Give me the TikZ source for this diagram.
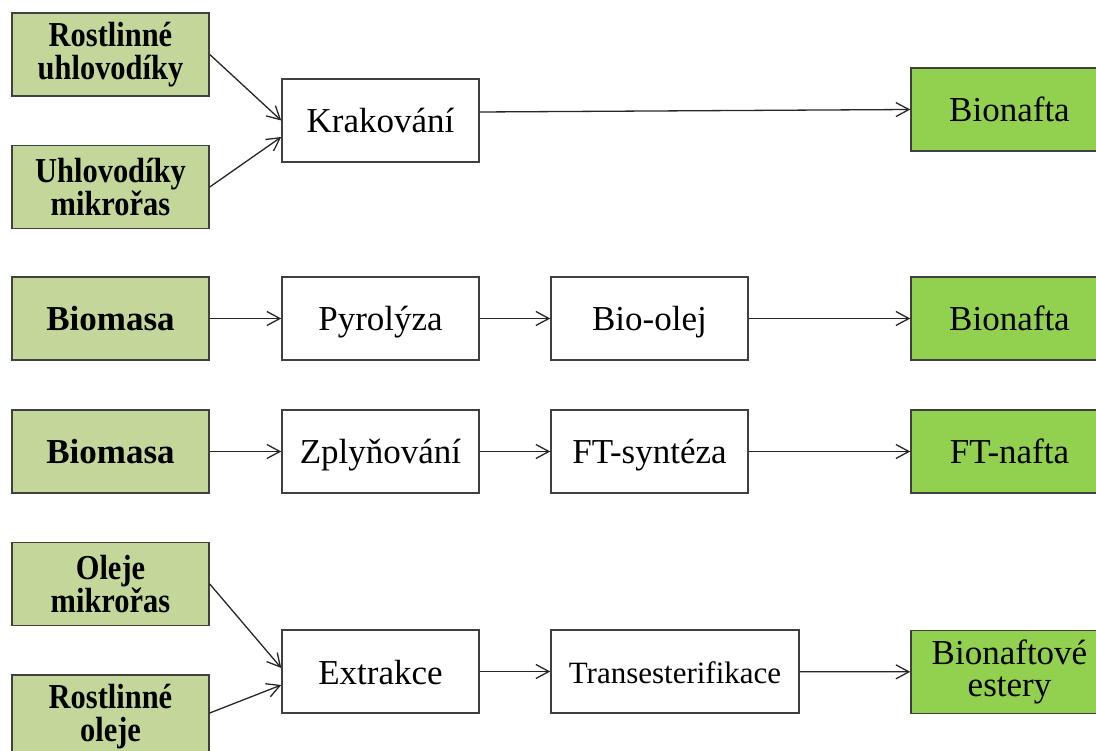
\documentclass[tikz,border=0pt]{standalone}
\usepackage{fontspec}
\setmainfont{Liberation Serif}
\newfontfamily\narrowserif{Liberation Serif}[FakeStretch=0.87]
\usetikzlibrary{arrows.meta}
\definecolor{feedgreen}{RGB}{196,215,155}
\definecolor{fuelgreen}{RGB}{146,208,80}
\definecolor{boxedge}{RGB}{64,64,64}
\begin{document}
\begin{tikzpicture}[x=1pt,y=-1pt,
  box/.style={draw=boxedge, line width=1.5pt, minimum width=197pt,
    minimum height=83pt, inner sep=0pt, align=center},
  oneline/.style={font=\fontsize{35}{32}\selectfont, text height=31.5pt, text depth=6.5pt},
  twoline/.style={font=\fontsize{35}{32}\selectfont},
  feed/.style={box, fill=feedgreen, font=\narrowserif\bfseries\fontsize{35}{33}\selectfont},
  feedone/.style={box, fill=feedgreen, oneline, font=\bfseries\fontsize{35}{32}\selectfont},
  process/.style={box, fill=white, oneline},
  fuel/.style={box, fill=fuelgreen},
  flow/.style={draw=black!85, line width=1.3pt,
    -{Straight Barb[length=13pt,width=14pt,line width=1.3pt]}}]
\useasboundingbox (0,0) rectangle (1096,751);
\clip (0,0) rectangle (1096,751);

% row 1: cracking of hydrocarbons
\node[feed] (rh) at (110.5,54.5) {Rostlinné\\uhlovodíky};
\node[feed] (mh) at (110.5,187) {Uhlovodíky\\mikrořas};
\node[process] (krak) at (380.5,120.5) {Krakování};
\node[fuel, oneline] (bio1) at (1009.5,109.5) {Bionafta};

% row 2: pyrolysis
\node[feedone] (bm1) at (110.5,318.5) {Biomasa};
\node[process] (pyr) at (380.5,318.5) {Pyrolýza};
\node[process] (olej) at (649.5,318.5) {Bio-olej};
\node[fuel, oneline] (bio2) at (1009.5,318.5) {Bionafta};

% row 3: gasification
\node[feedone] (bm2) at (110.5,451.5) {Biomasa};
\node[process] (zply) at (380.5,451.5) {Zplyňování};
\node[process] (ft) at (649.5,451.5) {FT-syntéza};
\node[fuel, oneline] (ftn) at (1009.5,451.5) {FT-nafta};

% row 4: extraction of oils
\node[feed] (mo) at (110.5,584) {Oleje\\mikrořas};
\node[feed] (ro) at (110.5,716.5) {Rostlinné\\oleje};
\node[process] (extr) at (380.5,671.5) {Extrakce};
\node[process, minimum width=248pt, font=\fontsize{31}{32}\selectfont,
  text height=29pt, text depth=6pt] (trans) at (675,671.5) {Transesterifikace};
\node[fuel, twoline] (est) at (1009.5,672) {Bionaftové\\estery};

% connectors
\draw[flow] (rh.east) -- (krak.west);
\draw[flow] (mh.east) -- ([yshift=-16.5pt]krak.west);
\draw[flow] ([yshift=8.5pt]krak.east) -- (bio1.west);

\draw[flow] (bm1) -- (pyr);
\draw[flow] (pyr) -- (olej);
\draw[flow] (olej) -- (bio2);

\draw[flow] (bm2) -- (zply);
\draw[flow] (zply) -- (ft);
\draw[flow] (ft) -- (ftn);

\draw[flow] (mo.east) -- ([yshift=3.5pt]extr.west);
\draw[flow] ([yshift=3.5pt]ro.east) -- ([yshift=-13.5pt]extr.west);
\draw[flow] (extr) -- (trans);
\draw[flow] (trans) -- (est);
\end{tikzpicture}
\end{document}
